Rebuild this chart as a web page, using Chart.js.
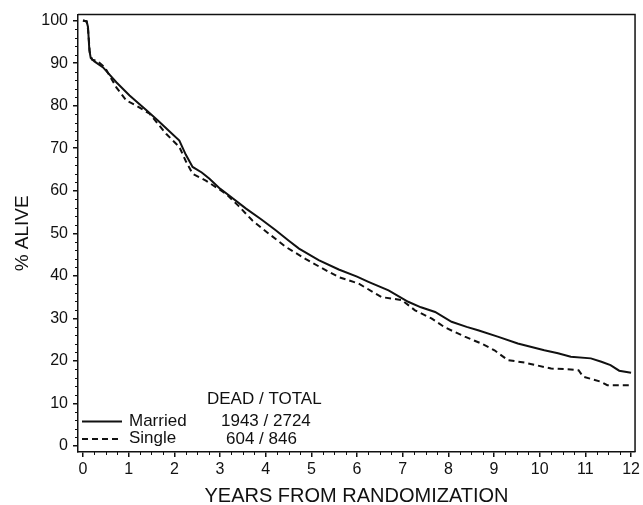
<!DOCTYPE html>
<html>
<head>
<meta charset="utf-8">
<script src="https://cdn.jsdelivr.net/npm/chart.js@4.4.1/dist/chart.umd.min.js"></script>
<style>
  html, body { margin: 0; padding: 0; background: #fff; }
  #wrap { width: 643px; height: 505px; }
</style>
</head>
<body>
<div id="wrap"><canvas id="survival" width="643" height="505"></canvas></div>
<script>
// Survival curves: % alive vs years from randomization

const xTickValues = [0, 1, 2, 3, 4, 5, 6, 7, 8, 9, 10, 11, 12];
const yTickValues = [0, 10, 20, 30, 40, 50, 60, 70, 80, 90, 100];

const marriedYears = [0, 0.08, 0.11, 0.14, 0.17, 0.25, 0.44, 0.73, 1.02, 1.39, 1.64, 1.85, 2.11, 2.25, 2.40, 2.6, 2.77, 3.0, 3.2, 3.57, 3.9, 4.22, 4.5, 4.73, 5.16, 5.6, 6.0, 6.25, 6.69, 7.12, 7.4, 7.71, 8.07, 8.4, 8.65, 9.08, 9.52, 10.1, 10.4, 10.68, 11.12, 11.35, 11.55, 11.74, 12.0];
const marriedAlive = [100, 99.8, 98.5, 93, 91.2, 90.4, 89.0, 85.5, 82.4, 78.9, 76.5, 74.4, 71.8, 68.5, 65.6, 64.3, 62.8, 60.5, 58.9, 55.8, 53.3, 50.7, 48.3, 46.4, 43.7, 41.5, 39.8, 38.6, 36.6, 33.9, 32.6, 31.5, 29.2, 28.0, 27.2, 25.7, 24.1, 22.5, 21.8, 21.0, 20.6, 19.8, 19.0, 17.7, 17.2];

const singleYears = [0, 0.08, 0.11, 0.15, 0.2, 0.3, 0.48, 0.73, 0.95, 1.17, 1.46, 1.82, 2.11, 2.25, 2.40, 2.69, 3.13, 3.4, 3.71, 4.07, 4.44, 4.87, 5.2, 5.6, 6.03, 6.54, 6.98, 7.27, 7.63, 7.92, 8.36, 8.72, 9.01, 9.30, 9.67, 10.25, 10.68, 10.85, 10.95, 11.34, 11.48, 12.0];
const singleAlive = [100, 99.8, 98, 92.5, 90.8, 90.6, 89, 84.3, 81.2, 80, 78.1, 73.4, 70.3, 67, 64, 62.4, 59.3, 56.5, 53, 49.9, 46.8, 44, 42, 39.7, 38.2, 35, 34.3, 31.9, 30, 27.9, 25.7, 24.1, 22.5, 20.2, 19.6, 18.2, 18.0, 17.8, 16.3, 15.1, 14.3, 14.3];

const legendHeader = 'DEAD / TOTAL';
const groupNames = ['Married', 'Single'];
const groupCounts = ['1943 / 2724', '604 / 846'];

const FONT = '"Liberation Sans", Arial, Helvetica, sans-serif';
const INK = '#111';

const toPoints = (xs, ys) => xs.map((x, i) => ({ x: x, y: ys[i] }));

// box frame, minor ticks and the in-plot legend
const framePlugin = {
    id: 'frame',
    afterDraw(chart) {
        const ctx = chart.ctx;
        const ca = chart.chartArea;
        const sx = chart.scales.x;
        const sy = chart.scales.y;
        ctx.save();
        ctx.strokeStyle = INK;
        ctx.lineWidth = 1.5;
        ctx.beginPath();
        ctx.moveTo(ca.left, ca.top);
        ctx.lineTo(ca.right, ca.top);
        ctx.lineTo(ca.right, ca.bottom);
        ctx.stroke();

        // minor ticks
        ctx.lineWidth = 1;
        ctx.beginPath();
        for (let v = 0; v < 12; v += 0.25) {
            if (Number.isInteger(v)) continue;
            const px = Math.round(sx.getPixelForValue(v)) + 0.5;
            ctx.moveTo(px, ca.bottom);
            ctx.lineTo(px, ca.bottom + 3);
        }
        for (let v = 0; v < 100; v += 2) {
            if (v % 10 === 0) continue;
            const py = Math.round(sy.getPixelForValue(v)) + 0.5;
            ctx.moveTo(ca.left, py);
            ctx.lineTo(ca.left - 3, py);
        }
        ctx.stroke();

        // legend
        ctx.fillStyle = INK;
        ctx.font = '17px ' + FONT;
        ctx.textBaseline = 'middle';
        ctx.textAlign = 'left';
        ctx.fillText(legendHeader, 207, 399);
        ctx.fillText(groupNames[0], 129, 421);
        ctx.fillText(groupCounts[0], 221, 421.5);
        ctx.fillText(groupNames[1], 129, 438.5);
        ctx.fillText(groupCounts[1], 226, 439);

        ctx.lineWidth = 2;
        ctx.beginPath();
        ctx.moveTo(82, 421.5);
        ctx.lineTo(122, 421.5);
        ctx.stroke();
        ctx.setLineDash([6, 4]);
        ctx.beginPath();
        ctx.moveTo(82, 439);
        ctx.lineTo(122, 439);
        ctx.stroke();
        ctx.restore();
    }
};

new Chart(document.getElementById('survival'), {
    type: 'line',
    data: {
        datasets: [{
            label: groupNames[0],
            data: toPoints(marriedYears, marriedAlive),
            borderColor: INK,
            borderWidth: 2,
            pointRadius: 0,
            tension: 0,
            fill: false
        }, {
            label: groupNames[1],
            data: toPoints(singleYears, singleAlive),
            borderColor: INK,
            borderWidth: 2,
            borderDash: [6, 4],
            pointRadius: 0,
            tension: 0,
            fill: false
        }]
    },
    options: {
        responsive: false,
        animation: false,
        events: [],
        layout: { padding: { top: 14, right: 5, left: 0, bottom: 0 } },
        plugins: { legend: { display: false }, tooltip: { enabled: false } },
        scales: {
            x: {
                type: 'linear',
                min: -0.109,
                max: 12.087,
                afterBuildTicks: s => { s.ticks = xTickValues.map(v => ({ value: v })); },
                afterFit: s => { s.height = 53; },
                ticks: {
                    autoSkip: false,
                    maxRotation: 0,
                    padding: 3,
                    color: INK,
                    font: { family: FONT, size: 16 },
                    callback: v => String(v)
                },
                grid: { drawOnChartArea: false, tickLength: 5, color: INK, lineWidth: 1.5 },
                border: { display: true, color: INK, width: 1.5 },
                title: {
                    display: true,
                    text: 'YEARS FROM RANDOMIZATION',
                    color: INK,
                    font: { family: FONT, size: 20, lineHeight: 0.8 },
                    padding: { top: 0, bottom: 1 }
                }
            },
            y: {
                min: -1.41,
                max: 101.41,
                afterBuildTicks: s => { s.ticks = yTickValues.map(v => ({ value: v })); },
                afterFit: s => { s.width = 78; },
                ticks: {
                    autoSkip: false,
                    padding: 5,
                    color: INK,
                    font: { family: FONT, size: 16 },
                    callback: v => String(v)
                },
                grid: { drawOnChartArea: false, tickLength: 5, color: INK, lineWidth: 1.5 },
                border: { display: true, color: INK, width: 1.5 },
                title: {
                    display: true,
                    text: '% ALIVE',
                    color: INK,
                    font: { family: FONT, size: 19, lineHeight: 1.2 },
                    padding: { top: 11, bottom: 0 }
                }
            }
        }
    },
    plugins: [framePlugin]
});
</script>
</body>
</html>
